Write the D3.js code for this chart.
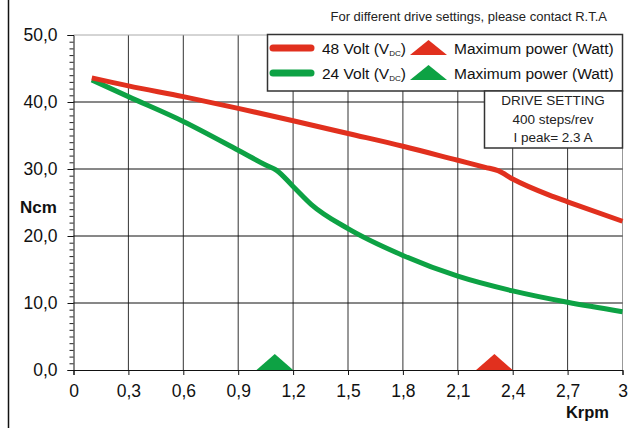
<!DOCTYPE html>
<html>
<head>
<meta charset="utf-8">
<script src="https://cdn.jsdelivr.net/npm/d3@7"></script>
<style>
  body { margin: 0; background: #fff; }
  svg { display: block; font-family: "Liberation Sans", Arial, sans-serif; }
</style>
</head>
<body>
<div id="chart"></div>
<script>
// data
const speed48 = [0.1, 0.3, 0.6, 0.9, 1.2, 1.5, 1.8, 2.1, 2.25, 2.32, 2.4, 2.6, 2.7, 3.0]
const torque48 = [43.6, 42.4, 40.8, 39.05, 37.2, 35.3, 33.4, 31.3, 30.25, 29.75, 28.5, 26.1, 25.1, 22.2]
const speed24 = [0.1, 0.3, 0.6, 0.9, 1.05, 1.11, 1.2, 1.3, 1.5, 1.8, 2.1, 2.4, 2.7, 3.0]
const torque24 = [43.3, 40.8, 37.1, 32.8, 30.6, 29.8, 27.4, 24.7, 21.1, 17.1, 14.0, 11.8, 10.1, 8.7]
const maxPowerSpeed = [2.3, 1.1]   // 48 V, 24 V
const xTicks = [0, 0.3, 0.6, 0.9, 1.2, 1.5, 1.8, 2.1, 2.4, 2.7, 3]
const xTickLabels = ["0", "0,3", "0,6", "0,9", "1,2", "1,5", "1,8", "2,1", "2,4", "2,7", "3"]
const yTicks = [0, 10, 20, 30, 40, 50]
const yTickLabels = ["0,0", "10,0", "20,0", "30,0", "40,0", "50,0"]
const seriesNames = ["48 Volt (V", "24 Volt (V"]
const driveLines = ["DRIVE SETTING", "400 steps/rev", "I peak= 2.3 A"]

const RED = "#e1301e"
const GREEN = "#0da244"
const W = 643, H = 428

const svg = d3.select("#chart").append("svg")
  .attr("width", W)
  .attr("height", H)

const x = d3.scaleLinear().domain([0, 3]).range([73.5, 622.5])
const y = d3.scaleLinear().domain([0, 50]).range([370, 35])

// left frame line
svg.append("line")
  .attr("x1", 8.5).attr("x2", 8.5).attr("y1", 0).attr("y2", H)
  .attr("stroke", "#111").attr("stroke-width", 1.5)

// grid
const grid = svg.append("g")
grid.selectAll(".vgrid")
  .data(xTicks.slice(1))
  .join("line")
    .attr("x1", d => x(d)).attr("x2", d => x(d))
    .attr("y1", y(50)).attr("y2", y(0))
    .attr("stroke", d => d === 3 ? "#999" : "#333")
    .attr("stroke-width", 1)
grid.selectAll(".hgrid")
  .data(yTicks.slice(1))
  .join("line")
    .attr("x1", x(0)).attr("x2", x(3))
    .attr("y1", d => y(d)).attr("y2", d => y(d))
    .attr("stroke", d => d === 50 ? "#aaa" : "#111")
    .attr("stroke-width", 1)

// curves
const line = d3.line()
  .x(d => x(d[0]))
  .y(d => y(d[1]))
  .curve(d3.curveMonotoneX)

svg.append("path")
  .attr("fill", "none")
  .attr("stroke", GREEN)
  .attr("stroke-width", 5)
  .attr("d", line(d3.zip(speed24, torque24)))

svg.append("path")
  .attr("fill", "none")
  .attr("stroke", RED)
  .attr("stroke-width", 5)
  .attr("d", line(d3.zip(speed48, torque48)))

// axes
const yMinor = d3.axisLeft(y).tickValues(d3.range(0, 51, 1)).tickSize(4).tickFormat("")
svg.append("g")
  .attr("transform", `translate(${x(0)},0)`)
  .call(yMinor)
  .call(g => g.select(".domain").remove())
  .call(g => g.selectAll("line").attr("stroke", "#222"))

const yAxis = d3.axisLeft(y)
  .tickValues(yTicks)
  .tickSize(6)
  .tickPadding(10)
  .tickFormat((d, i) => yTickLabels[i])
svg.append("g")
  .attr("transform", `translate(${x(0)},0)`)
  .call(yAxis)
  .call(g => g.select(".domain").attr("stroke", "#111"))
  .call(g => g.selectAll("line").attr("stroke", "#111"))
  .call(g => g.selectAll("text").attr("font-size", 17.5).attr("fill", "#111").attr("font-family", "Liberation Sans, Arial, sans-serif"))

const xAxis = d3.axisBottom(x)
  .tickValues(xTicks)
  .tickSize(5)
  .tickPadding(10)
  .tickFormat((d, i) => xTickLabels[i])
svg.append("g")
  .attr("transform", `translate(0,${y(0)})`)
  .call(xAxis)
  .call(g => g.select(".domain").attr("stroke", "#111"))
  .call(g => g.selectAll("line").attr("stroke", "#111"))
  .call(g => g.selectAll("text").attr("font-size", 17.5).attr("fill", "#111").attr("font-family", "Liberation Sans, Arial, sans-serif"))

// max power triangles on the axis
const tri = (cx, baseY, halfW, h) => `M${cx - halfW},${baseY}L${cx},${baseY - h}L${cx + halfW},${baseY}Z`
svg.selectAll(".maxp")
  .data(maxPowerSpeed)
  .join("path")
    .attr("d", d => tri(x(d), y(0), x(d + 0.1) - x(d), 16))
    .attr("fill", (d, i) => i === 0 ? RED : GREEN)

// axis titles
svg.append("text")
  .attr("x", 20).attr("y", 213)
  .attr("font-size", 17).attr("font-weight", "bold").attr("fill", "#111")
  .text("Ncm")
svg.append("text")
  .attr("x", 609).attr("y", 418)
  .attr("text-anchor", "end")
  .attr("font-size", 16.5).attr("font-weight", "bold").attr("fill", "#111")
  .text("Krpm")

// note
svg.append("text")
  .attr("x", 607).attr("y", 21)
  .attr("text-anchor", "end")
  .attr("font-size", 13).attr("fill", "#222")
  .text("For different drive settings, please contact R.T.A")

// legend
const legend = svg.append("g")
legend.append("rect")
  .attr("x", 267.5).attr("y", 34.5).attr("width", 355).attr("height", 56.5)
  .attr("fill", "#fff").attr("stroke", "#333").attr("stroke-width", 1.5)

const rows = legend.selectAll(".row")
  .data(seriesNames)
  .join("g")
    .attr("transform", (d, i) => `translate(0,${i === 0 ? 48 : 73})`)

rows.append("line")
  .attr("x1", 273).attr("x2", 311)
  .attr("stroke", (d, i) => i === 0 ? RED : GREEN)
  .attr("stroke-width", 7)
  .attr("stroke-linecap", "round")

const lbl = rows.append("text")
  .attr("x", 322).attr("y", 5.5)
  .attr("font-size", 15.5).attr("fill", "#111")
lbl.append("tspan").text(d => d)
lbl.append("tspan").attr("font-size", 8).attr("dy", 2).text("DC")
lbl.append("tspan").attr("dy", -2).text(")")

rows.append("path")
  .attr("d", tri(428.5, 7, 18.5, 15))
  .attr("fill", (d, i) => i === 0 ? RED : GREEN)

rows.append("text")
  .attr("x", 454).attr("y", 5.5)
  .attr("font-size", 15.5).attr("fill", "#111")
  .text("Maximum power (Watt)")

// drive setting box
const box = svg.append("g")
box.append("rect")
  .attr("x", 484.5).attr("y", 91).attr("width", 138).attr("height", 57)
  .attr("fill", "#fff").attr("stroke", "#333").attr("stroke-width", 1.5)
box.selectAll("text")
  .data(driveLines)
  .join("text")
    .attr("x", 553).attr("y", (d, i) => 105 + i * 18.5)
    .attr("text-anchor", "middle")
    .attr("font-size", 13.5).attr("fill", "#222")
    .text(d => d)
</script>
</body>
</html>
